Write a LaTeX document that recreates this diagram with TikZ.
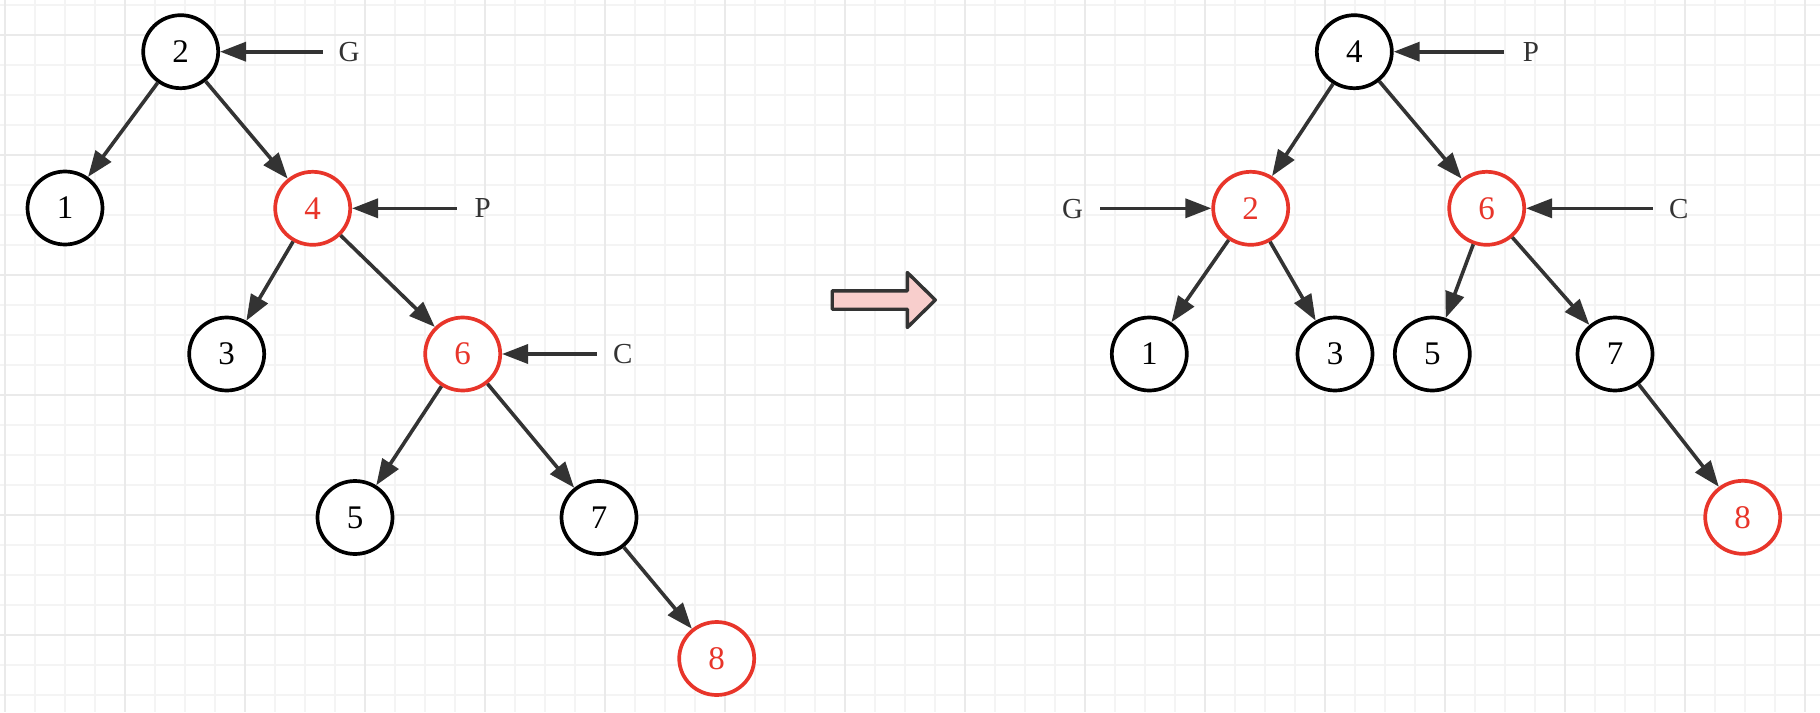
\documentclass[tikz,border=0pt]{standalone}
\usepackage{fontspec}
\setmainfont{Liberation Serif}
\usetikzlibrary{arrows.meta,shapes.geometric}
\definecolor{redc}{HTML}{E8352A}
\definecolor{dark}{HTML}{333333}
\definecolor{gridminor}{HTML}{F4F4F4}
\definecolor{gridmajor}{HTML}{EAEAEA}
\definecolor{pinkfill}{HTML}{F8CECC}
\begin{document}
\begin{tikzpicture}[x=1pt,y=-1pt,
  tnode/.style={ellipse, draw=black, line width=3.7pt, minimum width=75pt, minimum height=73pt, inner sep=0pt, fill=white, font=\fontsize{33}{33}\selectfont},
  rnode/.style={tnode, draw=redc, text=redc},
  link/.style={draw=dark, line width=3.6pt, -{Triangle[length=26pt,width=19pt]}},
  lbl/.style={text=dark, inner sep=0pt, font=\fontsize{29}{29}\selectfont},
  minorgrid/.style={draw=gridminor, line width=2pt},
  majorgrid/.style={draw=gridmajor, line width=2pt}]
\useasboundingbox (0,0) rectangle (1820,712);
\fill[white] (0,0) rectangle (1820,712);
% grid
\foreach \i in {0,...,60} {\draw[minorgrid] ({5+30*\i},0) -- ({5+30*\i},712);}
\foreach \j in {0,...,23} {\draw[minorgrid] (0,{5+30*\j}) -- (1820,{5+30*\j});}
\foreach \i in {0,...,15} {\draw[majorgrid] ({5+120*\i},0) -- ({5+120*\i},712);}
\foreach \j in {0,...,5} {\draw[majorgrid] (0,{35+120*\j}) -- (1820,{35+120*\j});}

% left tree
\node[tnode] (L2) at (180.7,51.7) {2};
\node[tnode] (L1) at (65,208) {1};
\node[rnode] (L4) at (312.7,208.3) {4};
\node[tnode] (L3) at (226.7,354) {3};
\node[rnode] (L6) at (462.7,354) {6};
\node[tnode] (L5) at (355,517.5) {5};
\node[tnode] (L7) at (599,517.5) {7};
\node[rnode] (L8) at (716.7,658.5) {8};

% right tree
\node[tnode] (R4) at (1354.3,51.7) {4};
\node[rnode] (R2) at (1250.7,208.3) {2};
\node[rnode] (R6) at (1486.7,208.3) {6};
\node[tnode] (R1) at (1149.3,354) {1};
\node[tnode] (R3) at (1335,354) {3};
\node[tnode] (R5) at (1432.3,354) {5};
\node[tnode] (R7) at (1615,354) {7};
\node[rnode] (R8) at (1742.7,517.3) {8};

% labels
\node[lbl] (lG) at (349,52) {G};
\node[lbl] (lP) at (482.7,208.5) {P};
\node[lbl] (lC) at (622.8,354.5) {C};
\node[lbl] (rP) at (1531,52) {P};
\node[lbl] (rC) at (1678.8,208.8) {C};
\node[lbl] (rG) at (1072.7,209.3) {G};

\coordinate (cG1) at (322.7,51.7);
\coordinate (cP1) at (456.7,208.3);
\coordinate (cC1) at (596.7,354);
\coordinate (cP2) at (1504,51.7);
\coordinate (cC2) at (1652.7,208.3);
\coordinate (cG2) at (1100,208.3);

% edges left
\draw[link] (L2) -- (L1);
\draw[link] (L2) -- (L4);
\draw[link] (L4) -- (L3);
\draw[link] (L4) -- (L6);
\draw[link] (L6) -- (L5);
\draw[link] (L6) -- (L7);
\draw[link] (L7) -- (L8);
% edges right
\draw[link] (R4) -- (R2);
\draw[link] (R4) -- (R6);
\draw[link] (R2) -- (R1);
\draw[link] (R2) -- (R3);
\draw[link] (R6) -- (R5);
\draw[link] (R6) -- (R7);
\draw[link] (R7) -- (R8);
% pointer arrows
\draw[link] (cG1) -- (L2.east);
\draw[link] (cP1) -- (L4.east);
\draw[link] (cC1) -- (L6.east);
\draw[link] (cP2) -- (R4.east);
\draw[link] (cC2) -- (R6.east);
\draw[link] (cG2) -- (R2.west);

% big arrow
\draw[draw=dark, fill=pinkfill, line width=3.4pt, line join=round]
  (832.2,290.8) -- (907.3,290.8) -- (907.3,272.5) -- (935.3,300) -- (907.3,327.5) -- (907.3,309.2) -- (832.2,309.2) -- cycle;
\end{tikzpicture}
\end{document}
